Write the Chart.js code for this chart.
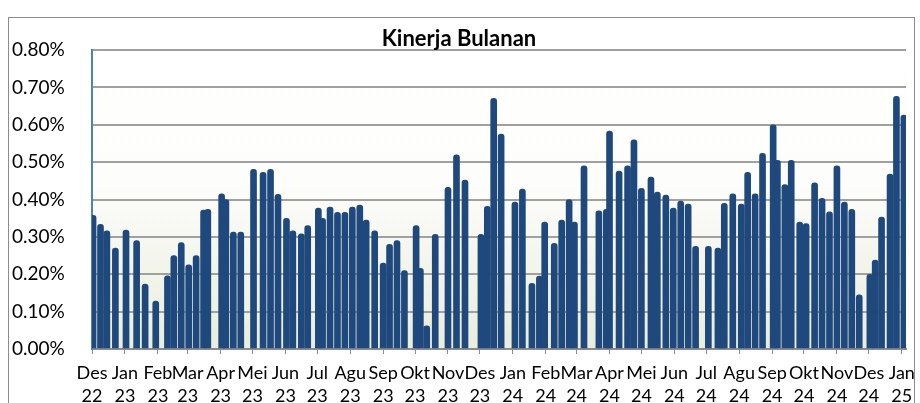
<!DOCTYPE html>
<html>
<head>
<meta charset="utf-8">
<script src="https://cdn.jsdelivr.net/npm/chart.js@4.4.1/dist/chart.umd.min.js"></script>
<style>
  html, body { margin: 0; padding: 0; background: #fff; }
</style>
</head>
<body>
<canvas id="kinerjaChart" width="920" height="403"></canvas>
<script>
// tanggal tiap batang (mingguan, ada minggu yang kosong)
const dates = [
    "2022-12-02", "2022-12-09", "2022-12-15", "2022-12-23",
    "2023-01-02", "2023-01-12", "2023-01-20", "2023-01-30",
    "2023-02-10", "2023-02-16", "2023-02-23",
    "2023-03-02", "2023-03-09", "2023-03-16", "2023-03-20",
    "2023-04-02", "2023-04-06", "2023-04-13", "2023-04-20",
    "2023-05-02", "2023-05-11", "2023-05-18", "2023-05-25",
    "2023-06-02", "2023-06-08", "2023-06-16", "2023-06-22",
    "2023-07-02", "2023-07-06", "2023-07-13", "2023-07-20", "2023-07-27",
    "2023-08-03", "2023-08-10", "2023-08-16", "2023-08-24",
    "2023-09-01", "2023-09-07", "2023-09-14", "2023-09-21",
    "2023-10-02", "2023-10-06", "2023-10-12", "2023-10-20",
    "2023-11-01", "2023-11-09", "2023-11-17",
    "2023-12-02", "2023-12-08", "2023-12-14", "2023-12-21",
    "2024-01-03", "2024-01-10", "2024-01-19", "2024-01-26", "2024-01-31",
    "2024-02-09", "2024-02-16", "2024-02-23", "2024-02-28",
    "2024-03-08", "2024-03-22", "2024-03-29",
    "2024-04-01", "2024-04-10", "2024-04-18", "2024-04-24",
    "2024-05-01", "2024-05-10", "2024-05-16", "2024-05-24", "2024-05-31",
    "2024-06-07", "2024-06-14", "2024-06-21",
    "2024-07-03", "2024-07-12", "2024-07-16", "2024-07-18", "2024-07-26",
    "2024-08-03", "2024-08-09", "2024-08-16", "2024-08-23",
    "2024-09-02", "2024-09-06", "2024-09-13", "2024-09-19", "2024-09-27",
    "2024-10-03", "2024-10-11", "2024-10-18", "2024-10-25",
    "2024-11-01", "2024-11-08", "2024-11-15", "2024-11-22",
    "2024-12-02", "2024-12-07", "2024-12-13", "2024-12-21", "2024-12-27",
    "2025-01-03"
]

// kinerja dalam persen
const values = [
    0.358, 0.334, 0.316, 0.27,
    0.318, 0.29, 0.174, 0.128,
    0.196, 0.25, 0.285,
    0.225, 0.25, 0.372, 0.374,
    0.415, 0.40, 0.313, 0.313,
    0.481, 0.473, 0.481, 0.414,
    0.35, 0.316, 0.308, 0.33,
    0.377, 0.35, 0.38, 0.366, 0.366,
    0.38, 0.385, 0.345, 0.316,
    0.23, 0.28, 0.29, 0.21,
    0.33, 0.216, 0.062, 0.307,
    0.433, 0.52, 0.452,
    0.307, 0.382, 0.671, 0.575,
    0.393, 0.428, 0.176, 0.195, 0.34,
    0.283, 0.345, 0.40, 0.34,
    0.49, 0.37, 0.374,
    0.583, 0.476, 0.49, 0.56,
    0.43, 0.46, 0.42, 0.412, 0.377,
    0.396, 0.388, 0.275,
    0.275, 0.27, 0.21, 0.39, 0.415,
    0.388, 0.473, 0.415, 0.524,
    0.60, 0.505, 0.44, 0.505, 0.34,
    0.336, 0.445, 0.403, 0.367,
    0.49, 0.393, 0.374, 0.145,
    0.20, 0.238, 0.353, 0.468, 0.676,
    0.626
]

// label sumbu x (awal bulan)
const tickDates = [
    "2022-12-01",
    "2023-01-01", "2023-02-01", "2023-03-01", "2023-04-01", "2023-05-01", "2023-06-01",
    "2023-07-01", "2023-08-01", "2023-09-01", "2023-10-01", "2023-11-01", "2023-12-01",
    "2024-01-01", "2024-02-01", "2024-03-01", "2024-04-01", "2024-05-01", "2024-06-01",
    "2024-07-01", "2024-08-01", "2024-09-01", "2024-10-01", "2024-11-01", "2024-12-01",
    "2025-01-01"
]
const tickMonths = ["Des", "Jan", "Feb", "Mar", "Apr", "Mei", "Jun", "Jul", "Agu", "Sep", "Okt", "Nov", "Des",
    "Jan", "Feb", "Mar", "Apr", "Mei", "Jun", "Jul", "Agu", "Sep", "Okt", "Nov", "Des", "Jan"]
const tickYears = ["22", "23", "23", "23", "23", "23", "23", "23", "23", "23", "23", "23", "23",
    "24", "24", "24", "24", "24", "24", "24", "24", "24", "24", "24", "24", "25"]

const start = Date.UTC(2022, 11, 1)
function dayOf(s) {
    return (Date.parse(s) - start) / 86400000
}

const font = "Lato, 'Noto Sans', sans-serif"

const framePlugin = {
    id: "frame",
    beforeDraw(chart) {
        const c = chart.ctx
        const a = chart.chartArea
        c.save()
        c.fillStyle = "#fff"
        c.fillRect(0, 0, chart.width, chart.height)
        c.strokeStyle = "#8c8c8c"
        c.lineWidth = 1
        c.strokeRect(8.5, 17.5, 906, 400)
        const g = c.createLinearGradient(0, a.top, 0, a.bottom)
        g.addColorStop(0, "#ffffff")
        g.addColorStop(0.45, "#fdfdfb")
        g.addColorStop(1, "#e9eddc")
        c.fillStyle = g
        c.fillRect(a.left, a.top, a.right - a.left, a.bottom - a.top)
        c.restore()
    }
}

const ctx = document.getElementById("kinerjaChart")

new Chart(ctx, {
    type: "bar",
    data: {
        datasets: [{
            data: dates.map((d, i) => ({ x: dayOf(d), y: values[i] })),
            backgroundColor: "#1f497d",
            barThickness: 6,
            borderRadius: 3
        }]
    },
    options: {
        responsive: false,
        animation: false,
        layout: { padding: { left: 12, right: 14, top: 27, bottom: 0 } },
        plugins: {
            legend: { display: false },
            tooltip: { enabled: false },
            title: {
                display: true,
                text: "Kinerja Bulanan",
                color: "#000",
                font: { family: font, size: 22, weight: "bold", lineHeight: 1.05 },
                padding: { top: 0, bottom: 0 }
            }
        },
        scales: {
            x: {
                type: "linear",
                offset: false,
                min: 0,
                max: dayOf("2025-01-05"),
                afterBuildTicks: function(scale) {
                    scale.ticks = tickDates.map(d => ({ value: dayOf(d) }))
                },
                afterFit: function(scale) {
                    scale.height = 54
                    scale.paddingLeft = 0
                    scale.paddingRight = 0
                },
                ticks: {
                    autoSkip: false,
                    maxRotation: 0,
                    padding: 8,
                    color: "#000",
                    font: { family: font, size: 18, lineHeight: 1.28 },
                    callback: function(value, index) {
                        return [tickMonths[index], tickYears[index]]
                    }
                },
                grid: { offset: false, drawOnChartArea: false, drawTicks: true, tickLength: 5, color: "#8c8c8c" },
                border: { color: "#8c8c8c", width: 2 }
            },
            y: {
                min: 0,
                max: 0.8,
                afterFit: function(scale) {
                    scale.width = 80
                },
                ticks: {
                    stepSize: 0.1,
                    crossAlign: "far",
                    color: "#000",
                    font: { family: font, size: 19 },
                    callback: function(value) {
                        return value.toFixed(2) + "%"
                    }
                },
                grid: { color: "#a0a0a0", lineWidth: 2, drawTicks: false },
                border: { color: "#4f81bd", width: 2 }
            }
        }
    },
    plugins: [framePlugin]
})
</script>
</body>
</html>
